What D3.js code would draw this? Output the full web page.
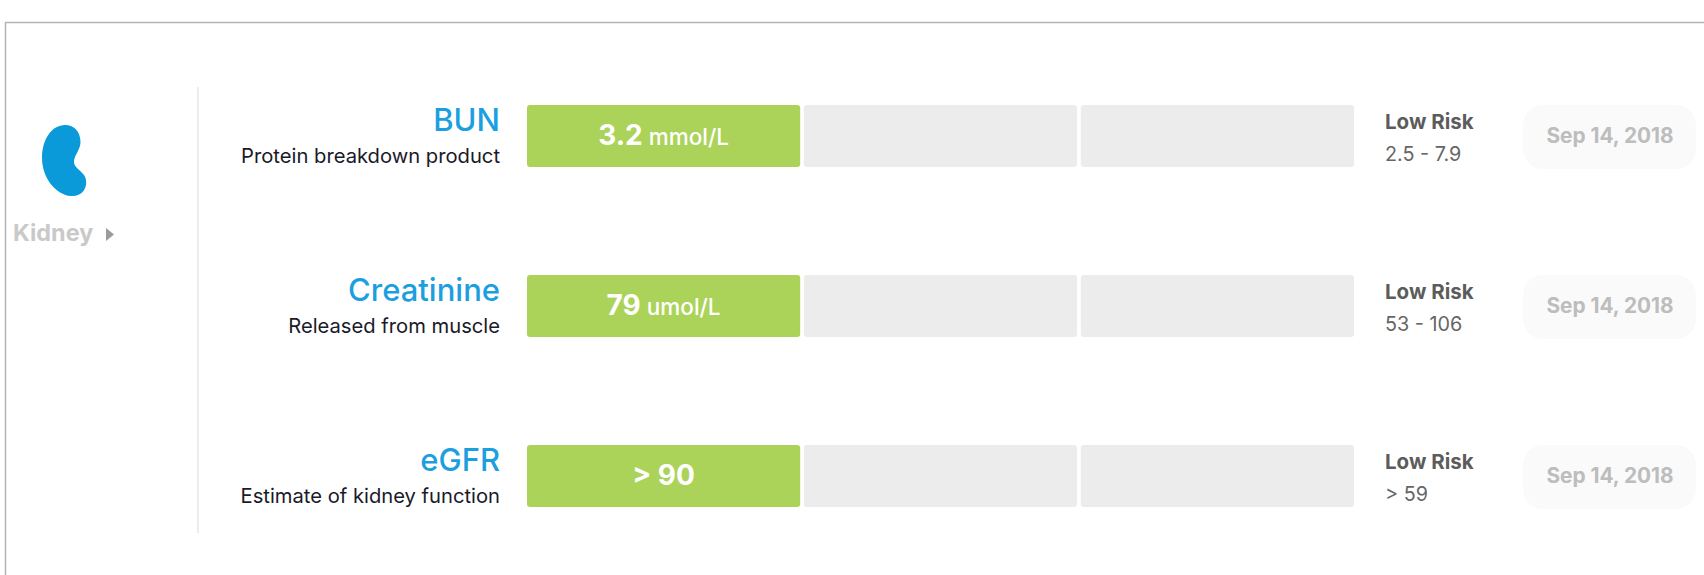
<!DOCTYPE html>
<html><head><meta charset="utf-8">
<script src="https://cdn.jsdelivr.net/npm/d3@7"></script>
<style>html,body{margin:0;padding:0;background:#fff;overflow:hidden}svg{display:block}text{font-family:Inter,"Open Sans",sans-serif}</style>
</head><body><div id="c"></div>
<script>
const tests=["BUN","Creatinine","eGFR"];
const descriptions=["Protein breakdown product","Released from muscle","Estimate of kidney function"];
const resultValues=["3.2","79","> 90"];
const resultUnits=["mmol/L","umol/L",""];
const riskLabels=["Low Risk","Low Risk","Low Risk"];
const riskRanges=["2.5 - 7.9","53 - 106","> 59"];
const dates=["Sep 14, 2018","Sep 14, 2018","Sep 14, 2018"];
const bands=["Low","Medium","High"];
const activeBand=["Low","Low","Low"];
const organ="Kidney";

const svg=d3.select("#c").append("svg").attr("width",1704).attr("height",575);
svg.append("path").attr("d","M5.5 575V22.5H1704").attr("fill","none").attr("stroke","#b5b5b5").attr("stroke-width",1.5);
svg.append("line").attr("x1",198).attr("x2",198).attr("y1",87).attr("y2",533).attr("stroke","#e6e6e6").attr("stroke-width",1.5);

svg.append("path").attr("fill","#0a9ad9")
 .attr("d","M65 125C74.500 125 80.500 132 80.500 142C80.500 150 74 155 74 162C74 167 80 170 84 175C87.500 180 86.500 187 83.500 191C80.500 195 75.500 196.500 71 196C56 195 42 178 42 158C42 139 52 125 65 125Z");
svg.append("text").text(organ).attr("x",13).attr("y",241).attr("font-size",23.400).attr("font-weight",700).attr("fill","#c9c9c9");
svg.append("path").attr("d","M106 228L114 234.500L106 241Z").attr("fill","#9b9b9b");

const rowH=62;
const yStep=d3.scalePoint().domain(tests).range([105,445]);
const x=d3.scaleBand().domain(bands).range([527,1354]).paddingInner(3.700/276).paddingOuter(0);

const rows=svg.selectAll("g.row").data(tests).join("g").attr("class","row").attr("transform",d=>`translate(0,${yStep(d)})`);
rows.each(function(t,i){
 const g=d3.select(this);
 g.selectAll("rect.band").data(bands).join("rect").attr("class","band")
  .attr("x",b=>x(b)).attr("y",0).attr("width",x.bandwidth()).attr("height",rowH).attr("rx",3)
  .attr("fill",b=>b===activeBand[i]?"#abd35a":"#ececec");
 g.append("text").text(t).attr("x",500).attr("y",26).attr("text-anchor","end").attr("font-size",31).attr("font-weight",500).attr("fill","#1c9fe0");
 g.append("text").text(descriptions[i]).attr("x",500).attr("y",58).attr("text-anchor","end").attr("font-size",20.200).attr("fill","#1a1a2a");
 const v=g.append("text").attr("x",x(activeBand[i])+x.bandwidth()/2).attr("y",40).attr("text-anchor","middle").attr("fill","#fff");
 v.append("tspan").text(resultValues[i]).attr("font-size",28).attr("font-weight",700);
 if(resultUnits[i]) v.append("tspan").text(" "+resultUnits[i]).attr("font-size",22.500).attr("font-weight",500);
 g.append("text").text(riskLabels[i]).attr("x",1385).attr("y",24).attr("font-size",20.500).attr("font-weight",700).attr("fill","#5c5c5c");
 g.append("text").text(riskRanges[i]).attr("x",1385).attr("y",56).attr("font-size",19.800).attr("fill","#666");
 g.append("rect").attr("x",1523).attr("y",0).attr("width",173).attr("height",64).attr("rx",20).attr("fill","#fafafa");
 g.append("text").text(dates[i]).attr("x",1610).attr("y",38).attr("text-anchor","middle").attr("font-size",20.800).attr("font-weight",700).attr("fill","#bdbdbd");
});
</script></body></html>
